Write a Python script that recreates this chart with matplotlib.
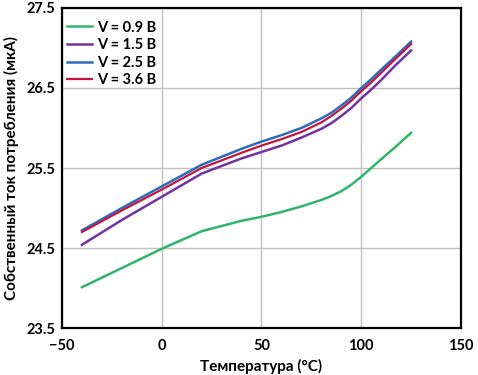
import matplotlib.pyplot as plt

plt.rcParams["font.family"] = ["Lato", "DejaVu Sans"]
plt.rcParams["font.weight"] = "bold"

temp = [-40, -20, 0, 20, 40, 50, 60, 70, 80, 85, 90, 95, 100, 105, 110, 117, 125]

i_09 = [24.01, 24.25, 24.49, 24.71, 24.84, 24.89, 24.95, 25.02, 25.10, 25.15,
        25.21, 25.29, 25.39, 25.50, 25.61, 25.76, 25.94]
i_15 = [24.54, 24.85, 25.14, 25.43, 25.62, 25.70, 25.78, 25.88, 25.99, 26.06,
        26.15, 26.25, 26.37, 26.48, 26.60, 26.78, 26.97]
i_25 = [24.72, 25.00, 25.27, 25.54, 25.74, 25.83, 25.91, 26.00, 26.12, 26.19,
        26.28, 26.38, 26.50, 26.61, 26.73, 26.89, 27.08]
i_36 = [24.70, 24.97, 25.23, 25.50, 25.69, 25.78, 25.86, 25.95, 26.07, 26.15,
        26.24, 26.34, 26.46, 26.57, 26.69, 26.86, 27.05]

series = [
    ("V = 0.9 B", i_09, "#2fb56c", 1.8),
    ("V = 1.5 B", i_15, "#7433a3", 1.8),
    ("V = 2.5 B", i_25, "#2c6cbf", 1.8),
    ("V = 3.6 B", i_36, "#c0163f", 1.6),
]

fig = plt.figure(figsize=(4.78, 3.75), dpi=100)
ax = fig.add_axes([0.1297, 0.1253, 0.8347, 0.8534])

for label, vals, color, lw in series:
    ax.plot(temp, vals, color=color, lw=lw, label=label)

ax.set_xlim(-50, 150)
ax.set_ylim(23.5, 27.5)
ax.set_xticks([-50, 0, 50, 100, 150])
ax.set_yticks([23.5, 24.5, 25.5, 26.5, 27.5])
ax.set_yticklabels(["23.5", "24.5", "25.5", "26.5", "27.5"])
ax.tick_params(length=0, labelsize=10.5)
ax.tick_params(axis="x", pad=8)
ax.tick_params(axis="y", pad=5)
ax.grid(True, color="#c0c0c0", lw=1)
ax.set_axisbelow(True)
for s in ax.spines.values():
    s.set_color("black")
    s.set_linewidth(1.6)

ax.set_xlabel("Температура (°C)", fontsize=11, fontweight="bold", labelpad=4)
ax.set_ylabel("Собственный ток потребления (мкА)", fontsize=11,
              fontweight="bold", labelpad=5)

leg = ax.legend(loc="upper left", bbox_to_anchor=(0.005, 0.97),
                frameon=False, fontsize=10.5, handlelength=1.75,
                handletextpad=0.3, labelspacing=0.25,
                borderaxespad=0, borderpad=0.2)
for t in leg.get_texts():
    t.set_fontweight("bold")

fig.savefig("out.png", dpi=100)
